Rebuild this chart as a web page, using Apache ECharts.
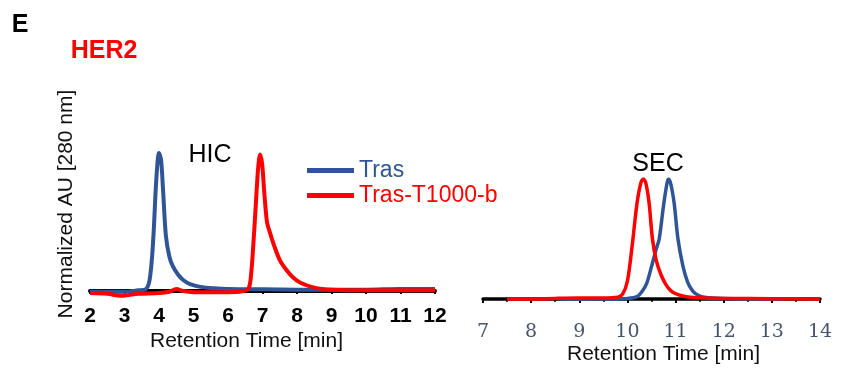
<!DOCTYPE html>
<html>
<head>
<meta charset="utf-8">
<script src="https://cdn.jsdelivr.net/npm/echarts@6/dist/echarts.min.js"></script>
<style>
  html, body { margin: 0; padding: 0; background: #fff; }
  #chart { width: 846px; height: 368px; }
</style>
</head>
<body>
<div id="chart"></div>
<script>
// HIC traces [retention time (min), normalized AU]
const hicTras = [
  [2, -0.005], [2.5, -0.005], [3, -0.005], [3.4, 0.005], [3.6, 0.01], [3.7, 0.05],
  [3.75, 0.12], [3.8, 0.25], [3.85, 0.45], [3.92, 0.8], [4.0, 1.0], [4.06, 0.95],
  [4.12, 0.72], [4.2, 0.4], [4.3, 0.25], [4.4, 0.18], [4.55, 0.12], [4.7, 0.08],
  [4.9, 0.05], [5.2, 0.03], [5.6, 0.02], [6, 0.015], [7, 0.012], [8, 0.01],
  [9, 0.01], [10, 0.01], [11, 0.015], [12, 0.015]
];
const hicConj = [
  [2, -0.015], [2.5, -0.02], [2.9, -0.035], [3.1, -0.03], [3.4, -0.02], [4, -0.015],
  [4.3, -0.005], [4.5, 0.015], [4.7, 0.0], [5, -0.008], [6, -0.008], [6.4, -0.002],
  [6.6, 0.02], [6.68, 0.15], [6.75, 0.4], [6.8, 0.6], [6.87, 0.88], [6.93, 0.99],
  [6.99, 0.92], [7.05, 0.72], [7.13, 0.5], [7.22, 0.42], [7.35, 0.32], [7.51, 0.22],
  [7.7, 0.15], [7.88, 0.1], [8.1, 0.06], [8.5, 0.025], [9, 0.01], [10, 0.005],
  [11, 0.005], [12, 0.005]
];

// SEC traces
const secTras = [
  [8.6, 0], [9, -0.003], [9.5, 0], [10, 0.005], [10.2, 0.02], [10.3, 0.06],
  [10.4, 0.13], [10.5, 0.27], [10.6, 0.42], [10.66, 0.5], [10.75, 0.78], [10.82, 0.96],
  [10.85, 1.0], [10.9, 0.96], [10.97, 0.8], [11.05, 0.5], [11.15, 0.28], [11.25, 0.14],
  [11.35, 0.07], [11.45, 0.035], [11.6, 0.015], [12, 0.005], [13.2, 0]
];
const secConj = [
  [7.5, 0], [8, 0], [8.5, 0.005], [9, 0.008], [9.5, 0.008], [9.8, 0.015],
  [9.9, 0.04], [10.0, 0.15], [10.1, 0.45], [10.2, 0.8], [10.28, 0.97], [10.33, 1.0],
  [10.38, 0.97], [10.45, 0.8], [10.52, 0.5], [10.6, 0.32], [10.7, 0.2], [10.8, 0.12],
  [10.9, 0.07], [11.0, 0.045], [11.15, 0.025], [11.3, 0.015], [11.6, 0.008], [12, 0.005],
  [13, 0.003], [14, 0]
];

const seriesNames = ["Tras", "Tras-T1000-b"];
const blue = "#2F5597";
const red = "#FF0000";

const chart = echarts.init(document.getElementById("chart"));

const axisName = "Retention Time [min]";

chart.setOption({
  backgroundColor: "#fff",
  animation: false,
  legend: {
    orient: "vertical",
    left: 302,
    top: 154,
    icon: "rect",
    itemWidth: 47,
    itemHeight: 5,
    itemGap: 2,
    textStyle: { fontFamily: "Arial, Liberation Sans", fontSize: 23 },
    data: [
      { name: seriesNames[0], textStyle: { color: blue } },
      { name: seriesNames[1], textStyle: { color: red } }
    ]
  },
  grid: [
    { left: 90, right: 411, top: 153, bottom: 68 },
    { left: 483, right: 26, top: 179, bottom: 51 }
  ],
  xAxis: [
    {
      gridIndex: 0,
      type: "value",
      min: 2, max: 12, interval: 1,
      name: axisName,
      nameLocation: "middle",
      nameGap: 31,
      nameTextStyle: { fontFamily: "Arial, Liberation Sans", fontSize: 21, color: "#111", padding: [0, 32, 0, 0] },
      axisLine: { lineStyle: { color: "#000", width: 4 } },
      axisTick: { show: true, length: 3, lineStyle: { color: "#000", width: 2 } },
      axisLabel: { margin: 6, fontFamily: "Arial, Liberation Sans", fontWeight: "bold", fontSize: 21, color: "#000" },
      splitLine: { show: false }
    },
    {
      gridIndex: 1,
      type: "value",
      min: 7, max: 14, interval: 1,
      name: axisName,
      nameLocation: "middle",
      nameGap: 27,
      nameTextStyle: { fontFamily: "Arial, Liberation Sans", fontSize: 21, color: "#111", padding: [0, 0, 0, 24] },
      axisLine: { lineStyle: { color: "#000", width: 3.5 } },
      axisTick: { show: true, length: 4, lineStyle: { color: "#000", width: 2 } },
      minorTick: { show: true, splitNumber: 2, length: 3, lineStyle: { color: "#000", width: 1.5 } },
      axisLabel: { margin: 6, fontFamily: "DejaVu Serif, serif", fontSize: 19, color: "#44546A" },
      splitLine: { show: false }
    }
  ],
  yAxis: [
    { gridIndex: 0, type: "value", min: -0.065, max: 1, show: false },
    { gridIndex: 1, type: "value", min: -0.15, max: 1, show: false }
  ],
  series: [
    { name: seriesNames[0], type: "line", xAxisIndex: 0, yAxisIndex: 0, data: hicTras,
      showSymbol: false, smooth: 0.3, color: blue, lineStyle: { width: 4, color: blue } },
    { name: seriesNames[1], type: "line", xAxisIndex: 0, yAxisIndex: 0, data: hicConj,
      showSymbol: false, smooth: 0.3, color: red, lineStyle: { width: 4, color: red } },
    { name: seriesNames[0], type: "line", xAxisIndex: 1, yAxisIndex: 1, data: secTras,
      showSymbol: false, smooth: 0.3, color: blue, lineStyle: { width: 3.5, color: blue } },
    { name: seriesNames[1], type: "line", xAxisIndex: 1, yAxisIndex: 1, data: secConj,
      showSymbol: false, smooth: 0.3, color: red, lineStyle: { width: 3.5, color: red } }
  ],
  graphic: [
    { type: "text", x: 20, y: 25, style: { text: "E", font: "bold 25px Arial, Liberation Sans", fill: "#000", align: "center", verticalAlign: "middle" } },
    { type: "text", x: 104, y: 51, style: { text: "HER2", font: "bold 25px Arial, Liberation Sans", fill: red, align: "center", verticalAlign: "middle" } },
    { type: "text", x: 210, y: 155, style: { text: "HIC", font: "25px Arial, Liberation Sans", fill: "#000", align: "center", verticalAlign: "middle" } },
    { type: "text", x: 658, y: 164, style: { text: "SEC", font: "25px Arial, Liberation Sans", fill: "#000", align: "center", verticalAlign: "middle" } },
    { type: "text", x: 66, y: 204, rotation: Math.PI / 2, style: { text: "Normalized AU [280 nm]", font: "21px Arial, Liberation Sans", fill: "#111", align: "center", verticalAlign: "middle" } }
  ]
});
</script>
</body>
</html>
